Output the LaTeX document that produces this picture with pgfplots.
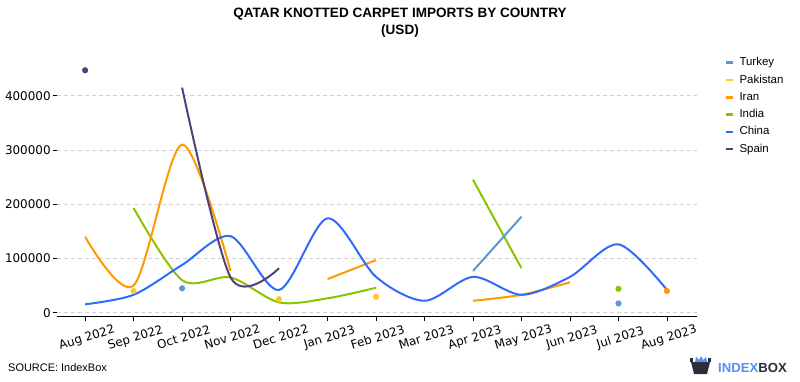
\documentclass[border=0pt]{standalone}
\usepackage{pgfplots}
\pgfplotsset{compat=1.18}
\usepackage{fontspec}
\setmainfont{Liberation Sans}
\newfontfamily\dejavu{DejaVu Sans}
\definecolor{cTurkey}{HTML}{5B96D8}
\definecolor{cPakistan}{HTML}{FFC824}
\definecolor{cIran}{HTML}{FF9A00}
\definecolor{cIndia}{HTML}{8CC300}
\definecolor{cChina}{HTML}{2F6BFA}
\definecolor{cSpain}{HTML}{51407A}
\definecolor{cGrid}{HTML}{D0D0D0}
\definecolor{cLogoDark}{HTML}{2B2D3A}
\definecolor{cLogoBlue}{HTML}{5A8CF5}
\begin{document}
\begin{tikzpicture}[x=1bp,y=1bp]
\useasboundingbox (0,0) rectangle (800,381);
\begin{axis}[
  at={(57bp,64.3bp)}, anchor=south west,
  scale only axis, width=640bp, height=253.5bp,
  xmin=-0.58, xmax=12.62, ymin=-7400, ymax=460000,
  axis x line*=bottom, axis y line*=left,
  x axis line style={-, black, line width=1.3bp},
  y axis line style={draw=none},
  tick align=outside, major tick length=4bp,
  every tick/.style={black, line width=0.8bp},
  xtick={0,...,12},
  xticklabels={Aug 2022,Sep 2022,Oct 2022,Nov 2022,Dec 2022,Jan 2023,Feb 2023,Mar 2023,Apr 2023,May 2023,Jun 2023,Jul 2023,Aug 2023},
  x tick label style={rotate=17, anchor=north, inner sep=0pt, font=\dejavu\fontsize{12}{14}\selectfont},
  xticklabel shift=11bp,
  ytick={0,100000,200000,300000,400000},
  scaled y ticks=false,
  /pgf/number format/assume math mode=true,
  y tick label style={font=\dejavu\fontsize{12}{14}\selectfont, xshift=2bp, /pgf/number format/.cd, fixed, 1000 sep={}},
  ymajorgrids, major grid style={cGrid, dash pattern=on 4bp off 3bp, line width=0.8bp},
  legend cell align=left,
  legend style={draw=none, fill=none, at={(1,1)}, anchor=north west, xshift=27bp, yshift=7bp,
    font=\fontsize{11.5}{13}\selectfont, row sep=6.3bp, inner sep=0pt,
    nodes={text height=8.5bp, text depth=2.5bp, inner xsep=5bp, inner ysep=0pt}},
  legend image code/.code={\draw[#1, line width=2.5bp] (0bp,0bp) -- (7bp,0bp);},
  line width=2bp,
]
\addlegendimage{cTurkey}\addlegendentry{Turkey}
\addlegendimage{cPakistan}\addlegendentry{Pakistan}
\addlegendimage{cIran}\addlegendentry{Iran}
\addlegendimage{cIndia}\addlegendentry{India}
\addlegendimage{cChina}\addlegendentry{China}
\addlegendimage{cSpain}\addlegendentry{Spain}

% India
\addplot[cIndia, smooth, forget plot] coordinates {(1,193000)(2,60000)(3,65000)(4,19000)(5,26500)(6,46000)};
\addplot[cIndia, smooth, forget plot] coordinates {(8,245000)(9,82000)};
\addplot[cIndia, only marks, mark=*, mark size=2bp, forget plot] coordinates {(11,44000)};
% Iran
\addplot[cIran, smooth, forget plot] coordinates {(0,140000)(1,50000)(2,310000)(3,77000)};
\addplot[cIran, smooth, forget plot] coordinates {(5,62000)(6,97000)};
\addplot[cIran, smooth, forget plot] coordinates {(8,22000)(9,33000)(10,56000)};
\addplot[cIran, only marks, mark=*, mark size=2bp, forget plot] coordinates {(12,40000)};
% Pakistan
\addplot[cPakistan, only marks, mark=*, mark size=2bp, forget plot] coordinates {(1,40000)(4,25000)(6,29500)};
% Turkey
\addplot[cTurkey, only marks, mark=*, mark size=2bp, forget plot] coordinates {(2,45000)(11,17000)};
\addplot[cTurkey, smooth, forget plot] coordinates {(8,77000)(9,177000)};
% China
\addplot[cChina, smooth, forget plot] coordinates {(0,15500)(1,33000)(2,88000)(3,141000)(4,42000)(5,174000)(6,66000)(7,22000)(8,66000)(9,33000)(10,66000)(11,126000)(12,42000)};
% Spain
\addplot[cSpain, only marks, mark=*, mark size=2bp, forget plot] coordinates {(0,447000)};
\addplot[cSpain, smooth, forget plot] coordinates {(2,415000)(3,65000)(4,82000)};
\end{axis}
\node[font=\bfseries\fontsize{13.6}{15}\selectfont] at (400,367) {QATAR KNOTTED CARPET IMPORTS BY COUNTRY};
\node[font=\bfseries\fontsize{13.6}{15}\selectfont] at (400,350) {(USD)};
\node[anchor=west, inner sep=0pt, font=\fontsize{11}{13}\selectfont] at (8,13) {SOURCE: IndexBox};
% logo
\fill[cLogoDark] (691,19) -- (710,19) -- (707,7) -- (694,7) -- cycle;
\fill[cLogoDark] (690,19) rectangle (693,23);
\fill[cLogoDark] (708,19) rectangle (711,23);
\fill[cLogoBlue] (695,19) -- (696,24) -- (699,21) -- (701,25) -- (703,21) -- (706,24) -- (707,19) -- cycle;
\node[anchor=west, inner sep=0pt, font=\bfseries\fontsize{13.2}{15}\selectfont] at (718,13) {\textcolor{cLogoBlue}{INDEX}\textcolor{cLogoDark}{BOX}};
\end{tikzpicture}
\end{document}
